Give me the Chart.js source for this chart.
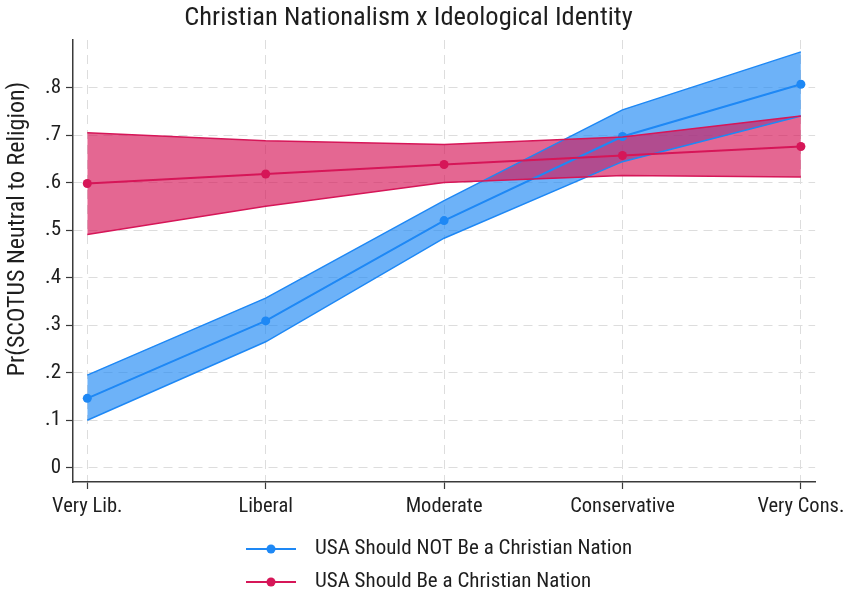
<!DOCTYPE html>
<html>
<head>
<meta charset="utf-8">
<script src="https://cdn.jsdelivr.net/npm/chart.js@4/dist/chart.umd.min.js"></script>
<style>
  html, body { margin: 0; padding: 0; background: #ffffff; }
  #wrap { width: 851px; height: 595px; }
</style>
</head>
<body>
<div id="wrap"><canvas id="c" width="851" height="595"></canvas></div>
<script>
// ---- data ----
const categories = ['Very Lib.', 'Liberal', 'Moderate', 'Conservative', 'Very Cons.'];
const yTickValues = [0, 0.1, 0.2, 0.3, 0.4, 0.5, 0.6, 0.7, 0.8];
const yTickLabels = ['0', '.1', '.2', '.3', '.4', '.5', '.6', '.7', '.8'];

const seriesNames = ['USA Should NOT Be a Christian Nation', 'USA Should Be a Christian Nation'];
const notMean = [0.146, 0.309, 0.520, 0.697, 0.807];
const notLow  = [0.100, 0.265, 0.483, 0.644, 0.740];
const notHigh = [0.195, 0.357, 0.562, 0.753, 0.875];
const beMean  = [0.598, 0.618, 0.638, 0.657, 0.676];
const beLow   = [0.491, 0.550, 0.600, 0.615, 0.612];
const beHigh  = [0.705, 0.688, 0.680, 0.696, 0.740];

const titleText = 'Christian Nationalism x Ideological Identity';
const yTitleText = 'Pr(SCOTUS Neutral to Religion)';

// ---- styling ----
const FONT = "'Liberation Sans Narrow', 'Roboto Condensed', 'DejaVu Sans Condensed', 'Liberation Sans', sans-serif";
const blueLine = 'rgb(30,136,245)';
const blueFill = 'rgba(30,136,245,0.65)';
const redLine = 'rgb(214,22,88)';
const redFill = 'rgba(214,22,88,0.65)';
const textColor = '#1e1e1e';
const axisColor = '#3a3a3a';
const gridColor = '#dddddd';

const pts = arr => arr.map((v, i) => ({ x: i, y: v }));

function band(high, low, line, fill, label) {
  return [
    { label: label + ' upper', data: pts(high), borderColor: line, borderWidth: 1.5,
      pointRadius: 0, fill: false, tension: 0 },
    { label: label + ' lower', data: pts(low), borderColor: line, borderWidth: 1.5,
      pointRadius: 0, fill: '-1', backgroundColor: fill, tension: 0 }
  ];
}

// Red drawn above blue (lower dataset index is painted last)
const datasets = [
  ...band(beHigh, beLow, redLine, redFill, seriesNames[1]),
  { label: seriesNames[1], data: pts(beMean), borderColor: redLine, backgroundColor: redLine,
    borderWidth: 2, pointRadius: 4.5, pointBackgroundColor: redLine, pointBorderWidth: 0,
    fill: false, tension: 0 },
  ...band(notHigh, notLow, blueLine, blueFill, seriesNames[0]),
  { label: seriesNames[0], data: pts(notMean), borderColor: blueLine, backgroundColor: blueLine,
    borderWidth: 2, pointRadius: 4.5, pointBackgroundColor: blueLine, pointBorderWidth: 0,
    fill: false, tension: 0 }
];

const legendItems = [
  { text: seriesNames[0], color: blueLine },
  { text: seriesNames[1], color: redLine }
];

const overlayPlugin = {
  id: 'overlay',
  afterDraw(chart) {
    const ctx = chart.ctx;
    ctx.save();
    // y-axis title
    ctx.fillStyle = textColor;
    ctx.font = '24px ' + FONT;
    ctx.textAlign = 'center';
    ctx.textBaseline = 'middle';
    ctx.translate(18, 229);
    ctx.rotate(-Math.PI / 2);
    ctx.fillText(yTitleText, 0, 0);
    ctx.restore();

    // legend (two stacked rows)
    ctx.save();
    const rowsY = [549, 582];
    legendItems.forEach((it, i) => {
      const y = rowsY[i];
      ctx.strokeStyle = it.color;
      ctx.lineWidth = 2;
      ctx.beginPath();
      ctx.moveTo(246, y);
      ctx.lineTo(296, y);
      ctx.stroke();
      ctx.fillStyle = it.color;
      ctx.beginPath();
      ctx.arc(271, y, 4.5, 0, Math.PI * 2);
      ctx.fill();
      ctx.fillStyle = textColor;
      ctx.font = '21px ' + FONT;
      ctx.textAlign = 'left';
      ctx.textBaseline = 'middle';
      ctx.fillText(it.text, 315, y);
    });
    ctx.restore();
  }
};

new Chart(document.getElementById('c'), {
  type: 'line',
  data: { datasets },
  options: {
    responsive: false,
    animation: false,
    devicePixelRatio: 1,
    layout: { padding: { left: 0, right: 34, top: 0, bottom: 0 } },
    plugins: {
      legend: { display: false },
      tooltip: { enabled: false },
      filler: { drawTime: 'beforeDatasetsDraw' },
      title: {
        display: true, text: titleText, color: textColor,
        font: { family: FONT, size: 26.5, weight: 'normal', lineHeight: 1 },
        padding: { top: 5, bottom: 8.5 }
      }
    },
    scales: {
      x: {
        type: 'linear', min: -0.08, max: 4.08,
        afterBuildTicks: s => { s.ticks = categories.map((c, i) => ({ value: i })); },
        afterFit: s => { s.height = 113; },
        ticks: {
          callback: (v) => categories[Math.round(v)],
          color: textColor, font: { family: FONT, size: 20.5 }, padding: 6,
          maxRotation: 0, autoSkip: false
        },
        grid: { color: gridColor, lineWidth: 1, tickColor: axisColor, tickLength: 7, tickWidth: 1.2 },
        border: { display: true, color: axisColor, width: 1.5, dash: [9, 6] }
      },
      y: {
        type: 'linear', min: -0.03, max: 0.90,
        afterBuildTicks: s => { s.ticks = yTickValues.map(v => ({ value: v })); },
        afterFit: s => { s.width = 73; },
        ticks: {
          callback: (v) => yTickLabels[yTickValues.findIndex(t => Math.abs(t - v) < 1e-9)],
          color: textColor, font: { family: FONT, size: 21 }, padding: 5
        },
        grid: { color: gridColor, lineWidth: 1, tickColor: axisColor, tickLength: 7, tickWidth: 1.2 },
        border: { display: true, color: axisColor, width: 1.5, dash: [9, 6] }
      }
    }
  },
  plugins: [overlayPlugin]
});
</script>
</body>
</html>
